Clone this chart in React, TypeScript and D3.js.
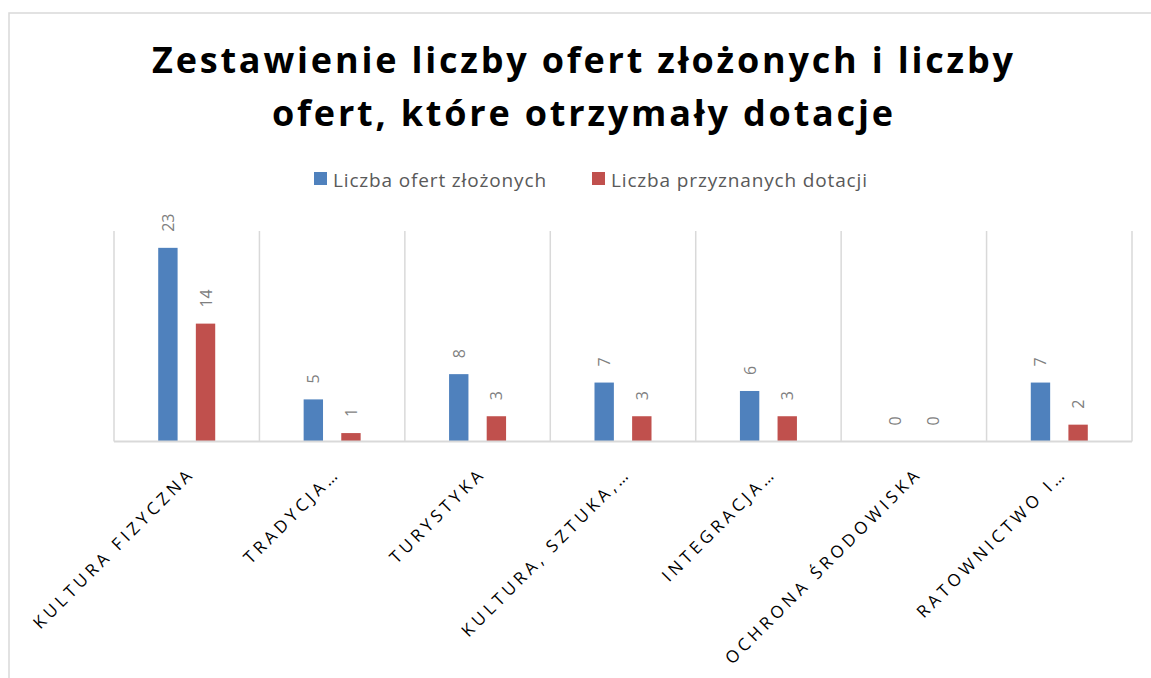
import React from 'react';
import * as d3 from 'd3';

const titleLines = ['Zestawienie liczby ofert złożonych i liczby', 'ofert, które otrzymały dotacje'];
const seriesNames = ['Liczba ofert złożonych', 'Liczba przyznanych dotacji'];
const seriesColors = ['#4f81bd', '#c0504d'];
const categories = [
    'KULTURA FIZYCZNA',
    'TRADYCJA…',
    'TURYSTYKA',
    'KULTURA, SZTUKA,…',
    'INTEGRACJA…',
    'OCHRONA ŚRODOWISKA',
    'RATOWNICTWO I…',
];
const submitted = [23, 5, 8, 7, 6, 0, 7];
const granted = [14, 1, 3, 3, 3, 0, 2];

const App = () => {
    const width = 1151;
    const height = 678;
    const plot = { left: 114, right: 1132, top: 231, bottom: 441.5 };

    const x0 = d3.scaleBand().domain(categories).range([plot.left, plot.right]).padding(0);
    const x1 = d3
        .scaleBand()
        .domain(seriesNames)
        .range([0, x0.bandwidth()])
        .paddingInner(0.485)
        .paddingOuter(1.175);
    const y = d3.scaleLinear().domain([0, 25]).range([plot.bottom, plot.top]);

    const series = [submitted, granted];
    const font = '"Open Sans", sans-serif';

    return (
        <svg
            width={width}
            height={height}
            style={{ position: 'absolute', left: 0, top: 0, display: 'block' }}
        >
            <rect x={0} y={0} width={width} height={height} fill="#fff" />
            {/* chart border */}
            <rect x={9} y={13} width={1170} height={700} fill="none" stroke="#d9d9d9" strokeWidth={1.5} />

            {/* title */}
            <text x={582.5} y={73} textAnchor="middle" fontFamily={font} fontWeight={700} fontSize={36}
                textLength={861} lengthAdjust="spacing" fill="#000">
                {titleLines[0]}
            </text>
            <text x={582.5} y={126} textAnchor="middle" fontFamily={font} fontWeight={700} fontSize={36}
                textLength={621} lengthAdjust="spacing" fill="#000">
                {titleLines[1]}
            </text>

            {/* legend */}
            {seriesNames.map((name, i) => {
                const lx = i === 0 ? 314 : 592;
                return (
                    <g key={name}>
                        <rect x={lx} y={172} width={13} height={13} fill={seriesColors[i]} />
                        <text x={lx + 19} y={186.5} fontFamily={font} fontSize={19} letterSpacing={0.85} fill="#595959">
                            {name}
                        </text>
                    </g>
                );
            })}

            {/* vertical category separators */}
            {d3.range(categories.length + 1).map((i) => {
                const gx = plot.left + i * x0.step();
                return (
                    <line key={i} x1={gx} x2={gx} y1={plot.top} y2={plot.bottom}
                        stroke="#d9d9d9" strokeWidth={1.5} />
                );
            })}

            {/* bars */}
            {categories.map((c, ci) => (
                <g key={c} transform={`translate(${x0(c)},0)`}>
                    {seriesNames.map((s, si) => {
                        const v = series[si][ci];
                        const bx = x1(s) as number;
                        return (
                            <g key={s}>
                                <rect x={bx} y={y(v)} width={x1.bandwidth()} height={plot.bottom - y(v)}
                                    fill={seriesColors[si]} />
                                <text transform={`translate(${bx + x1.bandwidth() / 2 + 6},${y(v) - 16}) rotate(-90)`}
                                    fontFamily={font} fontSize={16} fill="#7f7f7f">
                                    {v}
                                </text>
                            </g>
                        );
                    })}
                </g>
            ))}

            {/* x axis line */}
            <line x1={plot.left} x2={plot.right} y1={plot.bottom} y2={plot.bottom} stroke="#d9d9d9" strokeWidth={2} />

            {/* category labels */}
            {categories.map((c) => {
                const cx = (x0(c) as number) + x0.bandwidth() / 2;
                return (
                    <text key={c} transform={`translate(${cx + 9},${plot.bottom + 33}) rotate(-45)`}
                        textAnchor="end" fontFamily={font} fontSize={17} letterSpacing={4} fill="#000">
                        {c}
                    </text>
                );
            })}
        </svg>
    );
};

export default App;
